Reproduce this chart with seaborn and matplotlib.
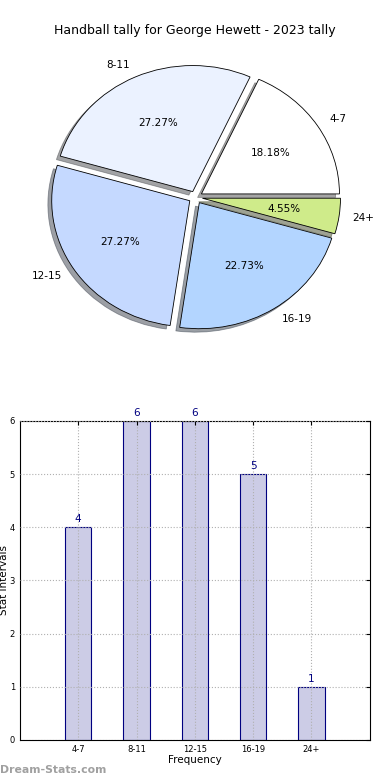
import pandas as pd
import matplotlib
matplotlib.use('Agg')
import matplotlib.pyplot as plt
import seaborn as sns

# Data
categories = ['4-7', '8-11', '12-15', '16-19', '24+']
counts = [4, 6, 6, 5, 1]
pie_colors = ['#FFFFFF', '#EBF2FF', '#C5D9FF', '#B3D5FF', '#CFEB8A']

sns.set_style('white')
plt.rcParams['font.family'] = ['DejaVu Sans']
plt.rcParams['text.color'] = 'black'
plt.rcParams['axes.labelcolor'] = 'black'
plt.rcParams['xtick.color'] = 'black'
plt.rcParams['ytick.color'] = 'black'

fig = plt.figure(figsize=(3.9, 7.8), dpi=100)

# Pie chart
ax1 = fig.add_axes([0.059, 0.545, 0.885, 0.404])
ax1.pie(counts, labels=categories, colors=pie_colors, autopct='%.2f%%',
        explode=[0.05] * len(counts), shadow=True, startangle=0,
        wedgeprops={'edgecolor': 'black', 'linewidth': 0.6},
        textprops={'fontsize': 7.5, 'color': 'black'})
ax1.set_aspect('auto')
ax1.set_xlim(-1.25, 1.25)
ax1.set_ylim(-1.25, 1.25)
fig.text(0.5, 0.961, 'Handball tally for George Hewett - 2023 tally',
         ha='center', va='center', fontsize=9, color='black')

# Bar chart
ax2 = fig.add_axes([0.051, 0.0513, 0.897, 0.409])
df = pd.DataFrame({'interval': categories, 'count': counts})
sns.barplot(data=df, x='interval', y='count', ax=ax2, width=0.45,
            color='#CCCCE6', edgecolor='navy', linewidth=0.8, saturation=1)
for i, v in enumerate(counts):
    ax2.text(i, v + 0.06, str(v), ha='center', va='bottom', color='navy', fontsize=7.5)
ax2.set_xlim(-1, 5)
ax2.set_ylim(0, 6)
ax2.set_yticks(range(0, 7))
ax2.grid(True, linestyle=':', color='#B0B0B0', linewidth=0.8)
ax2.set_axisbelow(False)
ax2.tick_params(direction='in', labelsize=6, top=True, right=True, length=3)
for s in ax2.spines.values():
    s.set_color('black')
    s.set_linewidth(0.8)
ax2.set_xlabel('Frequency', fontsize=7.5, labelpad=1)
ax2.set_ylabel('Stat Intervals', fontsize=7.5)
ax2.yaxis.set_label_coords(-0.03, 0.5)

fig.text(0.0, 0.013, 'Dream-Stats.com', color='#A0A0A0', fontsize=7.8,
         fontweight='bold', ha='left', va='center')

plt.savefig('out.png', dpi=100)
